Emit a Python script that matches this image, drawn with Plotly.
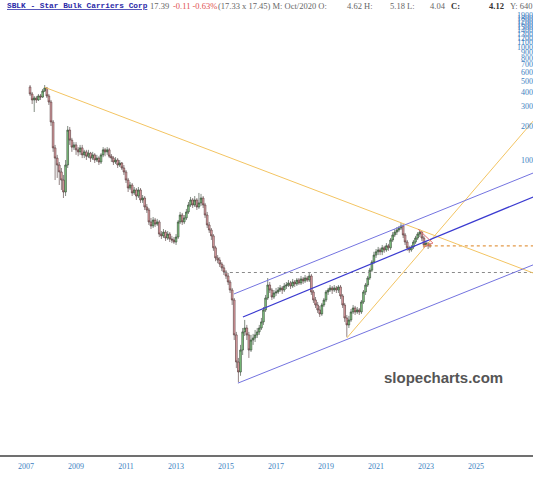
import plotly.graph_objects as go
import pandas as pd

# ---------------- data ----------------
start_month = "2007-03-01"
n_months = 193

opens = [443,384,340,354,340,369,361,408,434,369,
326,217,128,104,90.3,78.4,66.5,52.1,90.3,184,
150,130,136,123,118,128,111,118,108,115,
104,111,100,104,96.0,111,123,118,123,108,
104,96.0,100,90.3,94.1,85.0,78.4,66.5,56.5,60.1,
51.1,54.3,48.0,54.3,44.3,46.1,38.4,36.1,28.3,26.1,
29.4,27.1,28.3,22.1,21.3,23.0,20.4,22.1,20.0,19.6,
18.8,20.8,28.3,32.6,28.3,30.7,34.7,40.0,44.3,40.0,
44.3,38.4,41.7,46.1,40.0,32.6,26.6,24.0,21.3,16.7,
13.6,13.0,12.0,11.1,10.2,9.41,8.32,7.07,5.77,2.83,
1.63,1.33,2.08,3.01,3.26,2.83,2.08,2.55,2.66,2.83,
3.01,3.26,3.69,4.71,6.01,7.83,7.07,6.13,6.65,6.79,
7.07,7.37,7.07,7.67,7.83,8.16,7.67,8.32,8.00,8.67,
8.16,8.85,8.50,9.03,8.67,9.41,6.79,5.77,5.21,4.71,
4.34,5.21,5.77,6.79,7.07,7.37,7.07,7.37,7.07,7.52,
6.26,5.21,4.00,3.47,3.84,4.52,4.90,4.52,4.71,4.52,
5.54,6.79,7.83,9.03,10.6,12.5,14.4,15.4,16.0,15.4,
16.7,16.0,17.4,16.7,19.6,21.7,23.0,24.0,25.0,26.1,
21.7,18.8,16.7,16.0,17.0,18.8,20.4,22.1,23.0,20.4,
17.7,18.4,17.6]

highs = [461,400,369,369,384,384,425,461,443,384,
340,226,136,111,96.0,85.0,73.7,100,200,196,
157,144,144,130,136,136,123,123,123,118,
118,115,111,108,115,130,128,130,128,113,
108,106,104,100,96.0,90.3,81.6,69.4,63.9,62.6,
57.7,56.5,57.7,56.5,49.0,48.0,40.8,37.6,30.7,31.3,
30.7,30.1,29.4,23.5,24.5,24.0,23.5,23.0,21.3,20.8,
22.1,29.4,34.7,34.0,32.6,36.9,42.5,47.1,46.1,48.0,
46.1,51.1,50.1,48.0,41.7,34.7,28.3,25.0,22.1,17.4,
14.4,13.8,12.5,11.8,10.6,10.0,8.67,7.37,6.01,3.01,
1.77,2.31,3.26,3.84,3.47,3.01,2.83,2.89,3.13,3.26,
3.47,4.00,5.00,6.39,9.03,8.32,7.37,7.07,7.37,7.52,
7.83,7.67,8.16,8.32,8.67,8.50,8.85,8.67,9.03,9.03,
9.41,9.22,9.60,9.41,10.2,9.80,7.07,6.13,5.54,5.11,
5.43,6.01,7.07,7.37,7.83,7.67,7.83,7.67,7.83,7.83,
6.52,5.43,4.25,4.17,4.80,5.21,5.11,5.00,4.90,5.77,
7.07,8.16,9.41,11.1,13.0,15.4,16.3,17.0,16.7,17.7,
17.4,18.4,18.1,20.4,23.0,24.5,25.5,26.1,27.7,27.1,
22.6,19.6,17.4,17.7,19.6,21.3,23.0,24.5,23.5,21.3,
19.2,18.8,18.4]

lows = [369,313,266,320,333,340,354,400,354,307,
200,118,66.5,69.4,60.1,54.3,46.1,48.0,85.0,136,
118,123,111,108,111,104,104,100,104,96.0,
100,94.1,96.0,90.3,92.2,106,108,111,104,96.0,
90.3,92.2,85.0,86.7,81.6,73.7,62.6,52.1,54.3,48.0,
49.0,44.3,46.1,41.7,41.7,36.1,34.0,26.6,24.5,25.0,
25.5,26.1,20.8,20.0,20.4,19.2,19.6,18.8,18.4,18.1,
17.7,20.0,27.1,26.6,27.1,29.4,33.3,38.4,37.6,38.4,
36.1,36.9,39.2,37.6,30.7,25.0,22.6,19.6,15.7,12.7,
12.2,11.3,10.4,9.60,8.85,7.83,6.65,5.21,2.55,1.44,
1.08,1.23,1.88,2.77,2.55,1.77,2.00,2.31,2.45,2.66,
2.83,3.13,3.47,4.52,5.77,6.65,5.77,5.89,6.26,6.52,
6.79,6.52,6.79,7.22,7.52,7.22,7.37,7.52,7.67,7.83,
7.83,8.00,8.16,8.32,8.32,6.39,5.43,4.90,4.43,4.08,
4.17,5.00,5.54,6.39,6.79,6.52,6.79,6.65,6.65,5.89,
4.90,3.69,2.72,3.26,3.69,4.34,4.25,4.34,4.25,4.34,
5.32,6.39,7.52,8.67,10.2,12.0,13.6,14.4,14.4,14.4,
15.1,15.4,15.7,16.0,18.8,20.8,21.7,23.0,24.0,20.4,
17.7,15.7,15.1,15.4,16.3,18.1,19.6,20.8,19.2,16.7,
17.0,16.3,16.7]

closes = [384,340,354,340,369,361,408,434,369,326,
217,128,104,90.3,78.4,66.5,52.1,90.3,184,150,
130,136,123,118,128,111,118,108,115,104,
111,100,104,96.0,111,123,118,123,108,104,
96.0,100,90.3,94.1,85.0,78.4,66.5,56.5,60.1,51.1,
54.3,48.0,54.3,44.3,46.1,38.4,36.1,28.3,26.1,29.4,
27.1,28.3,22.1,21.3,23.0,20.4,22.1,20.0,19.6,18.8,
20.8,28.3,32.6,28.3,30.7,34.7,40.0,44.3,40.0,44.3,
38.4,41.7,46.1,40.0,32.6,26.6,24.0,21.3,16.7,13.6,
13.0,12.0,11.1,10.2,9.41,8.32,7.07,5.77,2.83,1.63,
1.33,2.08,3.01,3.26,2.83,2.08,2.55,2.66,2.83,3.01,
3.26,3.69,4.71,6.01,7.83,7.07,6.13,6.65,6.79,7.07,
7.37,7.07,7.67,7.83,8.16,7.67,8.32,8.00,8.67,8.16,
8.85,8.50,9.03,8.67,9.41,6.79,5.77,5.21,4.71,4.34,
5.21,5.77,6.79,7.07,7.37,7.07,7.37,7.07,7.52,6.26,
5.21,4.00,3.47,3.84,4.52,4.90,4.52,4.71,4.52,5.54,
6.79,7.83,9.03,10.6,12.5,14.4,15.4,16.0,15.4,16.7,
16.0,17.4,16.7,19.6,21.7,23.0,24.0,25.0,26.1,21.7,
18.8,16.7,16.0,17.0,18.8,20.4,22.1,23.0,20.4,17.7,
18.4,17.4,17.39]

# trend lines (date, price anchors)
down_line_x = ["2007-10-01", "2027-04-15"]
down_line_y = [440, 10.0]
up_line_x = ["2019-11-01", "2027-04-15"]
up_line_y = [2.66, 221]
chan_upper_x = ["2015-04-27", "2027-04-15"]
chan_upper_y = [6.52, 76.7]
chan_mid_x = ["2015-09-05", "2027-04-15"]
chan_mid_y = [4.08, 47.1]
chan_lower_x = ["2015-06-24", "2027-04-15"]
chan_lower_y = [1.06, 11.8]
red1_x = ["2022-09-05", "2023-04-12"]
red1_y = [24.5, 18.4]
red2_x = ["2022-12-02", "2023-04-12"]
red2_y = [17.0, 18.4]
last_price_x = ["2022-11-15", "2027-04-15"]
last_price_y = [17.39, 17.39]
gray_level_x = ["2014-12-01", "2027-04-15"]
gray_level_y = [10.1, 10.1]

y_tick_vals = [100,200,300,400,500,600,700,800,900,1000,1100,1200,1300,1400,1500,1600,1700,1800,1900]
y_tick_text = [str(v) for v in y_tick_vals]
x_tick_years = [2007,2009,2011,2013,2015,2017,2019,2021,2023,2025]

dates = pd.date_range(start_month, periods=n_months, freq="MS")

fig = go.Figure()
fig.add_trace(go.Candlestick(
    x=dates, open=opens, high=highs, low=lows, close=closes,
    increasing=dict(fillcolor="#86d086", line=dict(color="#2e3e2e", width=0.6)),
    decreasing=dict(fillcolor="#eca8ad", line=dict(color="#4a3030", width=0.6)),
    showlegend=False, hoverinfo="skip"))

def add_line(xs, ys, color, width=1, dash="solid"):
    fig.add_trace(go.Scatter(x=xs, y=ys, mode="lines",
                             line=dict(color=color, width=width, dash=dash),
                             showlegend=False, hoverinfo="skip"))

add_line(gray_level_x, gray_level_y, "#8a8a8a", 1, "dot")
add_line(last_price_x, last_price_y, "#e39a4a", 1.2, "dot")
add_line(down_line_x, down_line_y, "#f3c462", 1)
add_line(up_line_x, up_line_y, "#f3c462", 1)
add_line(chan_upper_x, chan_upper_y, "#7474e0", 1)
add_line(chan_mid_x, chan_mid_y, "#3a3ad0", 1.2)
add_line(chan_lower_x, chan_lower_y, "#7474e0", 1)
add_line(red1_x, red1_y, "#e07070", 1)
add_line(red2_x, red2_y, "#e07070", 1)

tick_font = dict(family="Liberation Serif", size=8, color="#3d7fbf")

fig.update_layout(
    width=533, height=480,
    margin=dict(l=0, r=0, t=12, b=25, autoexpand=False),
    paper_bgcolor="white", plot_bgcolor="white",
    boxgap=0.12, boxgroupgap=0,
    xaxis=dict(type="date", range=["2005-12-17", "2027-04-13"],
               rangeslider=dict(visible=False), automargin=False,
               tickvals=[f"{y}-01-01" for y in x_tick_years],
               ticktext=[str(y) for y in x_tick_years],
               tickfont=tick_font, showgrid=False, zeroline=False,
               showline=True, linecolor="#707070", linewidth=1.5,
               ticks="outside", ticklen=3, tickcolor="rgba(0,0,0,0)"),
    yaxis=dict(type="log", range=[-0.611, 3.310], side="left",
               anchor="free", position=1, automargin=False,
               tickvals=y_tick_vals, ticktext=y_tick_text,
               ticklabelposition="outside", tickfont=tick_font,
               ticks="", showgrid=False, zeroline=False, showline=False),
    showlegend=False,
)

# header
fig.add_annotation(xref="paper", yref="paper", x=5/533, y=1 + 6/443, xanchor="left", yanchor="middle",
                   text="<b><u>SBLK - Star Bulk Carriers Corp</u></b>", showarrow=False,
                   font=dict(family="Liberation Mono", size=7.8, color="#2a2aa8"))
header_parts = [
    ("17.39", 148, "#666666"),
    ("-0.11 -0.63%", 171, "#e05050"),
    ("(17.33 x 17.45) M: Oct/2020 O:", 216, "#666666"),
    ("4.62 H:", 345, "#666666"),
    ("5.18 L:", 388, "#666666"),
    ("4.04", 428, "#666666"),
    ("<b>C:</b>", 449, "#333333"),
    ("<b>4.12</b>", 487, "#333333"),
    ("Y: 640", 508, "#666666"),
]
for txt, px, col in header_parts:
    fig.add_annotation(xref="paper", yref="paper", x=px/533, y=1 + 6/443,
                       xanchor="left", yanchor="middle", text=txt, showarrow=False,
                       font=dict(family="Liberation Serif", size=8.5, color=col))

fig.add_annotation(xref="paper", yref="paper", x=443/533, y=(455-377)/443,
                   xanchor="center", yanchor="middle", text="<b>slopecharts.com</b>",
                   showarrow=False, font=dict(family="Liberation Sans", size=15, color="#555555"))

fig.write_html("out.html",
               config={"displayModeBar": False},
               post_script="document.body.style.margin='0';"
                           "document.documentElement.style.overflow='hidden';"
                           "document.body.style.overflow='hidden';")
